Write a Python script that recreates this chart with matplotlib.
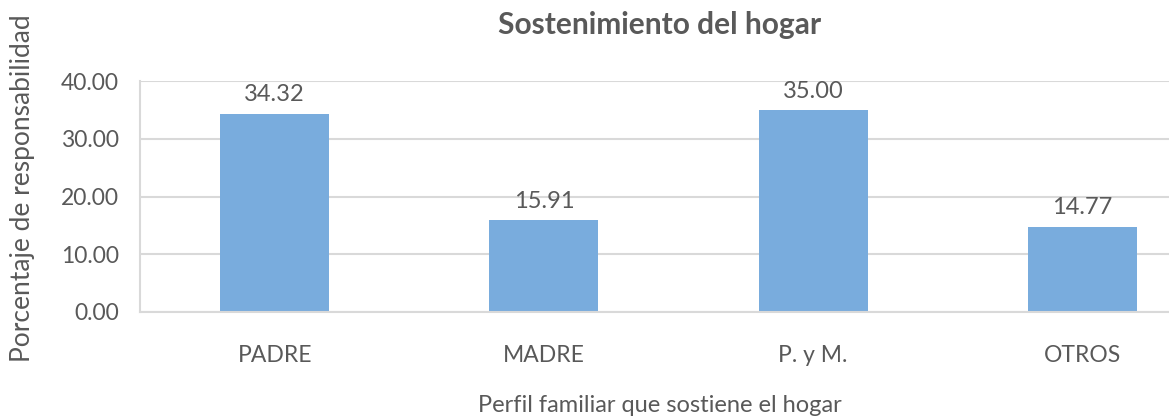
import matplotlib
matplotlib.use("Agg")
import matplotlib.pyplot as plt

categories = ["PADRE", "MADRE", "P. y M.", "OTROS"]
values = [34.32, 15.91, 35.00, 14.77]
yticks = [0, 10, 20, 30, 40]

TEXT = "#595959"
GRID = "#D9D9D9"
BAR = "#79ACDD"

plt.rcParams["font.family"] = ["Lato", "DejaVu Sans"]

fig = plt.figure(figsize=(11.69, 4.16), dpi=100)
# plot area runs past the right edge of the picture, as in the original
ax = fig.add_axes([140 / 1169, 104 / 416, 1077 / 1169, 231 / 416])

x = range(len(categories))
bars = ax.bar(x, values, width=0.405, color=BAR, zorder=2)
for b, v in zip(bars, values):
    ax.annotate(f"{v:.2f}", (b.get_x() + b.get_width() / 2, v),
                xytext=(0, 6), textcoords="offset points",
                ha="center", va="bottom", fontsize=17, color=TEXT)

ax.set_xlim(-0.5, len(categories) - 0.5)
ax.set_ylim(0, 40)
ax.set_yticks(yticks)
ax.set_yticklabels([f"{t:.2f}" for t in yticks], fontsize=16.5, color=TEXT)
ax.set_xticks(list(x))
ax.set_xticklabels(categories, fontsize=16.5, color=TEXT)
ax.tick_params(axis="y", length=0, pad=15)
ax.tick_params(axis="x", length=0, pad=24)
ax.grid(axis="y", color=GRID, linewidth=1.5, zorder=0)
for s in ["top", "right"]:
    ax.spines[s].set_visible(False)
ax.spines["left"].set_color(GRID)
ax.spines["left"].set_linewidth(1.5)
ax.spines["bottom"].set_color(GRID)
ax.spines["bottom"].set_linewidth(1.5)

fig.text(660 / 1169, 1 - 25 / 416, "Sostenimiento del hogar", ha="center",
         va="center", fontsize=21.5, fontweight="bold", color=TEXT)
fig.text(23 / 1169, 1 - 188 / 416, "Porcentaje de responsabilidad",
         rotation=90, ha="center", va="center", fontsize=19, color=TEXT)
fig.text(660 / 1169, 1 - 405 / 416, "Perfil familiar que sostiene el hogar",
         ha="center", va="center", fontsize=17, color=TEXT)

fig.savefig("out.png", dpi=100)
